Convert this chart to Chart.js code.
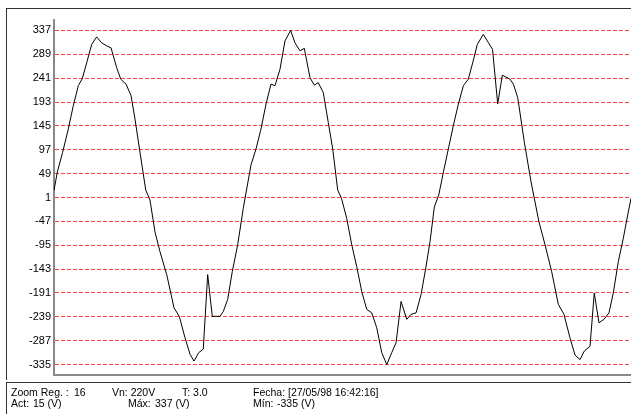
<!DOCTYPE html>
<html>
<head>
<meta charset="utf-8">
<script src="https://cdn.jsdelivr.net/npm/chart.js@4/dist/chart.umd.min.js"></script>
<style>
  html, body { margin: 0; padding: 0; background: #fff; }
  body { width: 631px; height: 414px; position: relative; overflow: hidden;
         font-family: "Liberation Sans Narrow", "Liberation Sans", Arial, sans-serif; font-size: 10.5px; color: #000; }
  #wrap { position: absolute; left: 0; top: 0; width: 631px; height: 414px; }
  #frame { position: absolute; left: 6px; top: 8px; width: 630px; height: 372px;
           border-left: 1px solid #333; border-top: 1px solid #333; box-sizing: border-box; }
  #info { position: absolute; left: 6px; top: 382px; width: 630px; height: 40px;
          border-left: 1px solid #333; border-top: 1px solid #333; box-sizing: border-box; }
  .t { position: absolute; white-space: pre; line-height: 13px; }
</style>
</head>
<body>
<div id="frame"></div>
<div id="wrap"><canvas id="c" width="631" height="414"></canvas></div>
<div id="info"></div>
<script>
// Time of each sample (ms) over the 60 ms window
const timeMs = [0,0.34,0.90,1.49,2.01,2.53,2.94,3.40,3.92,4.44,
  4.96,5.48,5.93,6.52,6.94,7.49,8.01,8.42,8.94,9.54,
  9.98,10.50,11.02,11.72,12.48,13.03,13.62,14.14,14.56,15.05,
  15.52,15.98,16.46,17.26,17.61,18.06,18.54,19.10,19.68,20.48,
  21.01,21.49,22.05,22.56,22.98,23.50,24.02,24.61,25.06,25.58,
  26.03,26.62,27.07,27.48,28.00,28.52,28.98,29.50,29.90,30.44,
  30.96,31.48,32.00,32.52,33.04,33.56,34.08,34.60,35.12,35.57,
  36.09,36.68,37.13,37.65,38.17,38.66,39.10,39.55,40.01,40.49,
  41.01,41.53,42.05,42.57,43.08,43.54,44.02,44.64,45.60,46.14,
  46.62,47.42,47.77,48.22,48.91,49.61,50.43,51.06,51.75,52.44,
  53.03,53.65,54.18,54.70,55.14,55.74,56.18,56.67,57.19,57.71,
  58.16,58.68,59.20,59.66,60.00];

// Instantaneous voltage (V)
const volts = [15,52,92,139,186,226,240,272,309,324,
  312,306,302,262,239,229,206,159,92,16,
  -4,-68,-108,-154,-221,-238,-281,-314,-328,-311,
  -304,-154,-238,-238,-228,-204,-148,-94,-21,66,
  99,136,189,229,226,259,316,337,312,296,
  301,242,227,232,212,152,99,16,-1,-41,
  -94,-138,-188,-224,-231,-261,-311,-335,-311,-291,
  -208,-244,-234,-231,-194,-141,-88,-18,6,52,
  99,146,189,226,239,272,309,329,299,189,
  247,239,229,202,112,32,-48,-94,-148,-214,
  -234,-281,-316,-325,-308,-298,-191,-251,-244,-231,
  -191,-128,-81,-34,-1];

// Voltage axis ticks
const yTicks = [337,289,241,193,145,97,49,1,-47,-95,-143,-191,-239,-287,-335];

// Status lines under the chart: [text, x offset]
const infoLines = [
  [["Zoom Reg. :", 4], ["16", 67], ["Vn: 220V", 105], ["T: 3.0", 175], ["Fecha: [27/05/98 16:42:16]", 246]],
  [["Act:", 4], ["15 (V)", 26], ["Máx:", 121], ["337 (V)", 148], ["Mín:", 246], ["-335 (V)", 270]]
];

const info = document.getElementById('info');
infoLines.forEach((line, i) => {
  line.forEach(([txt, x]) => {
    const d = document.createElement('div');
    d.className = 't';
    d.textContent = txt;
    d.style.left = x + 'px';
    d.style.top = (2.5 + i * 11.5) + 'px';
    info.appendChild(d);
  });
});

const points = timeMs.map((t, i) => ({ x: t, y: volts[i] }));

new Chart(document.getElementById('c'), {
  type: 'line',
  data: {
    datasets: [{
      data: points,
      borderColor: '#000',
      borderWidth: 1,
      pointRadius: 0,
      tension: 0,
      fill: false
    }]
  },
  options: {
    responsive: false,
    animation: false,
    layout: { padding: { left: 0, right: 0, top: 20, bottom: 39 } },
    plugins: { legend: { display: false }, tooltip: { enabled: false } },
    scales: {
      x: {
        type: 'linear',
        min: 0,
        max: 60,
        ticks: { display: false },
        grid: { display: false, drawTicks: false },
        border: { display: true, color: '#888', width: 2 },
        afterFit: (s) => { s.height = 0; }
      },
      y: {
        type: 'linear',
        min: -356,
        max: 358,
        afterBuildTicks: (s) => { s.ticks = yTicks.map(v => ({ value: v })); },
        afterFit: (s) => { s.width = 54; },
        ticks: {
          color: '#000',
          padding: 3,
          font: { family: '"Liberation Sans", Arial, sans-serif', size: 11 },
          callback: (v) => String(v)
        },
        grid: { color: 'rgb(255,70,70)', lineWidth: 1, drawTicks: false },
        border: { display: true, color: '#888', width: 2, dash: [4, 2] }
      }
    }
  }
});
</script>
</body>
</html>
